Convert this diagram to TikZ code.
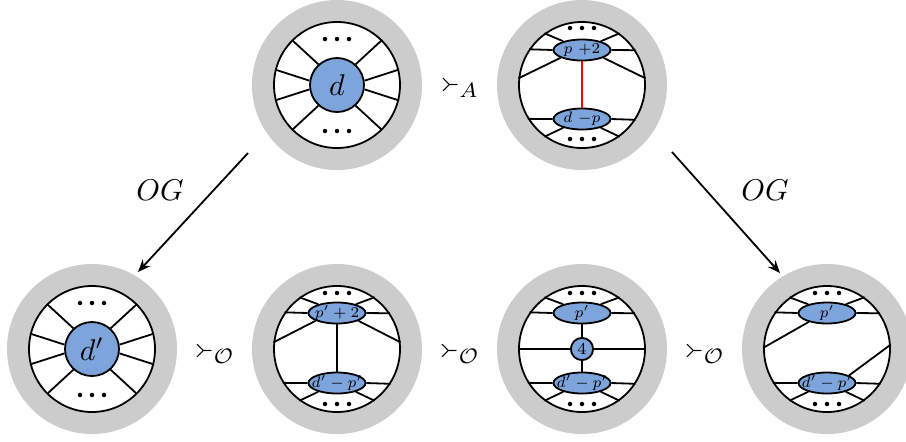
\documentclass[tikz,border=0pt]{standalone}
\usepackage{stmaryrd}
\usetikzlibrary{shapes.geometric,arrows.meta}
\definecolor{ringgray}{RGB}{204,204,204}
\definecolor{vblue}{RGB}{126,164,220}
\tikzset{
  ring/.style={circle,fill=ringgray,minimum size=56.67pt,inner sep=0pt},
  disk/.style={circle,draw,fill=white,minimum size=42pt,inner sep=0pt},
  bigv/.style={circle,draw,fill=vblue,minimum size=18pt,inner sep=0pt},
  ev/.style={ellipse,draw,fill=vblue,minimum width=19pt,minimum height=7pt,inner sep=0pt},
  fourv/.style={circle,draw,fill=vblue,minimum size=7.4pt,inner sep=0pt},
  flab/.style={inner sep=0pt,font=\scriptsize,scale=0.8,transform shape},
  elab/.style={inner sep=0pt,font=\scriptsize,scale=0.72,transform shape},
  pdot/.style={circle,fill=black,minimum size=1.5pt,inner sep=0pt},
  edge/.style={line width=0.6pt},
  arr/.style={line width=0.6pt,-{Stealth[length=4.2pt,width=3.4pt]}},
  rel/.style={inner sep=0pt}
}
\begin{document}
\begin{tikzpicture}[x=0.3333pt,y=0.3333pt,line width=0.6pt]
\useasboundingbox (0,0) rectangle (906,441);

% ---------- top left: single vertex d ----------
\node[ring] (g1) at (337,356) {};
\node[disk] (w1) at (337,356) {};
\node[bigv] (b1) at (337,356) {$d$};
\foreach \a/\b in {132/135,171/166,189/194,228/225,48/45,9/14,351/346,312/315}
  \draw[edge] (b1.\a) -- (w1.\b);
\node[pdot] (t1a) at (325,402) {};
\node[pdot] (t1b) at (337,402) {};
\node[pdot] (t1c) at (349,402) {};
\node[pdot] (u1a) at (325,310) {};
\node[pdot] (u1b) at (337,310) {};
\node[pdot] (u1c) at (349,310) {};

% ---------- top right ----------
\node[ring] (g2) at (582,356) {};
\node[disk] (w2) at (582,356) {};
\node[ev] (e2a) at (582,391) {};
\node[elab] (l2a) at (582,391) {$p\ {+2}$};
\node[ev] (e2b) at (582,322) {};
\node[elab] (l2b) at (582,322) {$d\ {-p}$};
\draw[edge,red] (e2a.south) -- (e2b.north);
\draw[edge] (e2a.west) -- (w2.146.3);
\draw[edge] (e2a.east) -- (w2.33.7);
\draw[edge] (e2a.155) -- (w2.126);
\draw[edge] (e2a.25) -- (w2.54);
\draw[edge] (e2a.200) -- (w2.174);
\draw[edge] (e2a.340) -- (w2.6);
\draw[edge] (e2b.west) -- (w2.212.7);
\draw[edge] (e2b.east) -- (w2.327.3);
\draw[edge] (e2b.205) -- (w2.234);
\draw[edge] (e2b.335) -- (w2.306);
\node[pdot] (t2a) at (570,413) {};
\node[pdot] (t2b) at (582,413) {};
\node[pdot] (t2c) at (594,413) {};
\node[pdot] (u2a) at (570,302) {};
\node[pdot] (u2b) at (582,302) {};
\node[pdot] (u2c) at (594,302) {};

% ---------- bottom 1: single vertex d' ----------
\node[ring] (g3) at (92,92) {};
\node[disk] (w3) at (92,92) {};
\node[bigv] (b3) at (92,92) {$d'$};
\foreach \a/\b in {132/135,171/166,189/194,228/225,48/45,9/14,351/346,312/315}
  \draw[edge] (b3.\a) -- (w3.\b);
\node[pdot] (t3a) at (80,138) {};
\node[pdot] (t3b) at (92,138) {};
\node[pdot] (t3c) at (104,138) {};
\node[pdot] (u3a) at (80,46) {};
\node[pdot] (u3b) at (92,46) {};
\node[pdot] (u3c) at (104,46) {};

% ---------- bottom 2 ----------
\node[ring] (g4) at (337,92) {};
\node[disk] (w4) at (337,92) {};
\node[ev] (e4a) at (337,128) {};
\node[elab] (l4a) at (337,128) {$p'+2$};
\node[ev] (e4b) at (337,58) {};
\node[elab] (l4b) at (337,58) {$d'-p'$};
\draw[edge] (e4a.south) -- (e4b.north);
\draw[edge] (e4a.west) -- (w4.145.2);
\draw[edge] (e4a.east) -- (w4.34.8);
\draw[edge] (e4a.155) -- (w4.126);
\draw[edge] (e4a.25) -- (w4.54);
\draw[edge] (e4a.200) -- (w4.174);
\draw[edge] (e4a.340) -- (w4.6);
\draw[edge] (e4b.west) -- (w4.212.7);
\draw[edge] (e4b.east) -- (w4.327.3);
\draw[edge] (e4b.205) -- (w4.234);
\draw[edge] (e4b.335) -- (w4.306);
\node[pdot] (t4a) at (325,148) {};
\node[pdot] (t4b) at (337,148) {};
\node[pdot] (t4c) at (349,148) {};
\node[pdot] (u4a) at (325,37) {};
\node[pdot] (u4b) at (337,37) {};
\node[pdot] (u4c) at (349,37) {};

% ---------- bottom 3 ----------
\node[ring] (g5) at (582,92) {};
\node[disk] (w5) at (582,92) {};
\node[ev] (e5a) at (582,128) {};
\node[elab] (l5a) at (582,128) {$p'$};
\node[ev] (e5b) at (582,58) {};
\node[elab] (l5b) at (582,58) {$d'-p'$};
\node[fourv] (c5) at (582,92) {};
\node[flab] (l5c) at (582,92) {$4$};
\draw[edge] (e5a.south) -- (c5.north);
\draw[edge] (c5.south) -- (e5b.north);
\draw[edge] (c5.west) -- (w5.west);
\draw[edge] (c5.east) -- (w5.east);
\draw[edge] (e5a.west) -- (w5.145.2);
\draw[edge] (e5a.east) -- (w5.34.8);
\draw[edge] (e5a.155) -- (w5.126);
\draw[edge] (e5a.25) -- (w5.54);
\draw[edge] (e5b.west) -- (w5.212.7);
\draw[edge] (e5b.east) -- (w5.327.3);
\draw[edge] (e5b.205) -- (w5.234);
\draw[edge] (e5b.335) -- (w5.306);
\node[pdot] (t5a) at (570,148) {};
\node[pdot] (t5b) at (582,148) {};
\node[pdot] (t5c) at (594,148) {};
\node[pdot] (u5a) at (570,37) {};
\node[pdot] (u5b) at (582,37) {};
\node[pdot] (u5c) at (594,37) {};

% ---------- bottom 4 ----------
\node[ring] (g6) at (827,92) {};
\node[disk] (w6) at (827,92) {};
\node[ev] (e6a) at (827,128) {};
\node[elab] (l6a) at (827,128) {$p'$};
\node[ev] (e6b) at (827,58) {};
\node[elab] (l6b) at (827,58) {$d'-p'$};
\draw[edge] (e6a.west) -- (w6.145.2);
\draw[edge] (e6a.east) -- (w6.34.8);
\draw[edge] (e6a.155) -- (w6.126);
\draw[edge] (e6a.25) -- (w6.54);
\draw[edge] (e6a.206) -- (w6.179);
\draw[edge] (e6b.west) -- (w6.212.7);
\draw[edge] (e6b.east) -- (w6.327.3);
\draw[edge] (e6b.205) -- (w6.234);
\draw[edge] (e6b.335) -- (w6.306);
\draw[edge] (e6b.19) -- (w6.4);
\node[pdot] (t6a) at (815,148) {};
\node[pdot] (t6b) at (827,148) {};
\node[pdot] (t6c) at (839,148) {};
\node[pdot] (u6a) at (815,37) {};
\node[pdot] (u6b) at (827,37) {};
\node[pdot] (u6c) at (839,37) {};

% ---------- arrows and labels ----------
\coordinate (aL1) at (248,288);
\coordinate (aL2) at (138,169);
\coordinate (aR1) at (672,289);
\coordinate (aR2) at (780,168);
\draw[arr] (aL1) -- (aL2);
\draw[arr] (aR1) -- (aR2);
\node (og1) at (160,251) {$OG$};
\node (og2) at (765,251) {$OG$};
\node[rel] (r1) at (460,354) {$\Yright_A$};
\node[rel] (r2) at (215,88) {$\Yright_{\mathcal{O}}$};
\node[rel] (r3) at (460,88) {$\Yright_{\mathcal{O}}$};
\node[rel] (r4) at (705,88) {$\Yright_{\mathcal{O}}$};
\end{tikzpicture}
\end{document}
